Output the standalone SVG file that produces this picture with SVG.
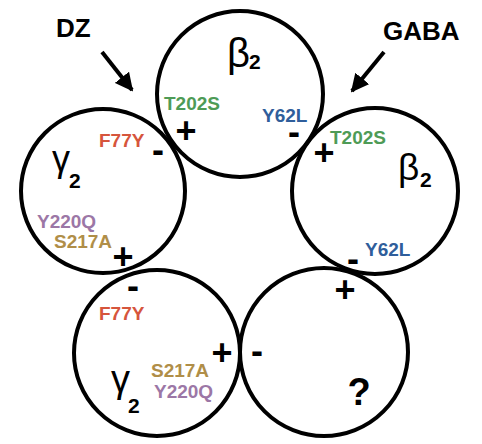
<svg xmlns="http://www.w3.org/2000/svg" width="482" height="444" viewBox="0 0 482 444">
<defs>
<marker id="ah" viewBox="0 0 10 10" refX="9" refY="5" markerWidth="4.5" markerHeight="4.5" orient="auto" markerUnits="strokeWidth">
<path d="M0,0 L10,5 L0,10 Z" fill="#000"/>
</marker>
</defs>
<style>
.c{fill:none;stroke:#000;stroke-width:4}
.t{font-family:"Liberation Sans",Arial,sans-serif;font-weight:bold;font-size:19px}
.big{font-family:"Liberation Sans",Arial,sans-serif;font-weight:bold;font-size:26px;fill:#000}
.pm{font-family:"Liberation Sans",Arial,sans-serif;font-weight:bold;font-size:36px;fill:#000;text-anchor:middle}
.g{font-family:"Liberation Sans",Arial,sans-serif;fill:#000}
.s{font-family:"Liberation Sans",Arial,sans-serif;font-weight:bold;font-size:21px;fill:#000}
.grn{fill:#4e9b56}.red{fill:#d6553c}.blu{fill:#2f5e9b}.pur{fill:#9c77a6}.gld{fill:#b08e48}
.ar{stroke:#000;stroke-width:4;fill:none}
</style>
<rect width="482" height="444" fill="#fff"/>
<g id="connectors">
<line class="ar" x1="102" y1="52" x2="132" y2="90" marker-end="url(#ah)"/>
<line class="ar" x1="384" y1="52" x2="352" y2="91" marker-end="url(#ah)"/>
</g>
<g id="label-dz"><text class="big" x="56" y="37">DZ</text></g>
<g id="label-gaba"><text class="big" x="383" y="40">GABA</text></g>
<g id="beta-top">
<circle class="c" cx="240" cy="94" r="83"/>
<text class="g" x="227" y="67" style="font-size:40px">β</text><text class="s" x="249" y="69">2</text>
<text class="t grn" x="164" y="110">T202S</text>
<text class="pm" x="186" y="143">+</text>
<text class="t blu" x="262" y="122">Y62L</text>
<text class="pm" x="294" y="144">-</text>
</g>
<g id="gamma-left">
<circle class="c" cx="103" cy="191" r="82"/>
<text class="g" x="52" y="171" style="font-size:36px">γ</text><text class="s" x="69" y="188">2</text>
<text class="t red" x="99" y="147">F77Y</text>
<text class="pm" x="158" y="162">-</text>
<text class="t pur" x="37" y="228">Y220Q</text>
<text class="t gld" x="54" y="248">S217A</text>
<text class="pm" x="123" y="269">+</text>
</g>
<g id="beta-right">
<circle class="c" cx="375" cy="191" r="83"/>
<text class="g" x="398" y="180" style="font-size:37px">β</text><text class="s" x="420" y="187">2</text>
<text class="t grn" x="330" y="144">T202S</text>
<text class="pm" x="324" y="165">+</text>
<text class="t blu" x="365" y="256">Y62L</text>
<text class="pm" x="353" y="271">-</text>
<text class="pm" x="345" y="302">+</text>
</g>
<g id="gamma-bottom">
<circle class="c" cx="157" cy="353" r="83"/>
<text class="pm" x="133" y="298">-</text>
<text class="t red" x="99" y="320">F77Y</text>
<text class="pm" x="222" y="365">+</text>
<text class="t gld" x="151" y="377">S217A</text>
<text class="t pur" x="154" y="398">Y220Q</text>
<text class="g" x="111" y="392" style="font-size:38px">γ</text><text class="s" x="128" y="413">2</text>
</g>
<g id="unknown">
<circle class="c" cx="324" cy="352" r="84"/>
<text class="pm" x="257" y="363">-</text>
<text class="big" x="359" y="405" style="font-size:38px;text-anchor:middle">?</text>
</g>
</svg>
